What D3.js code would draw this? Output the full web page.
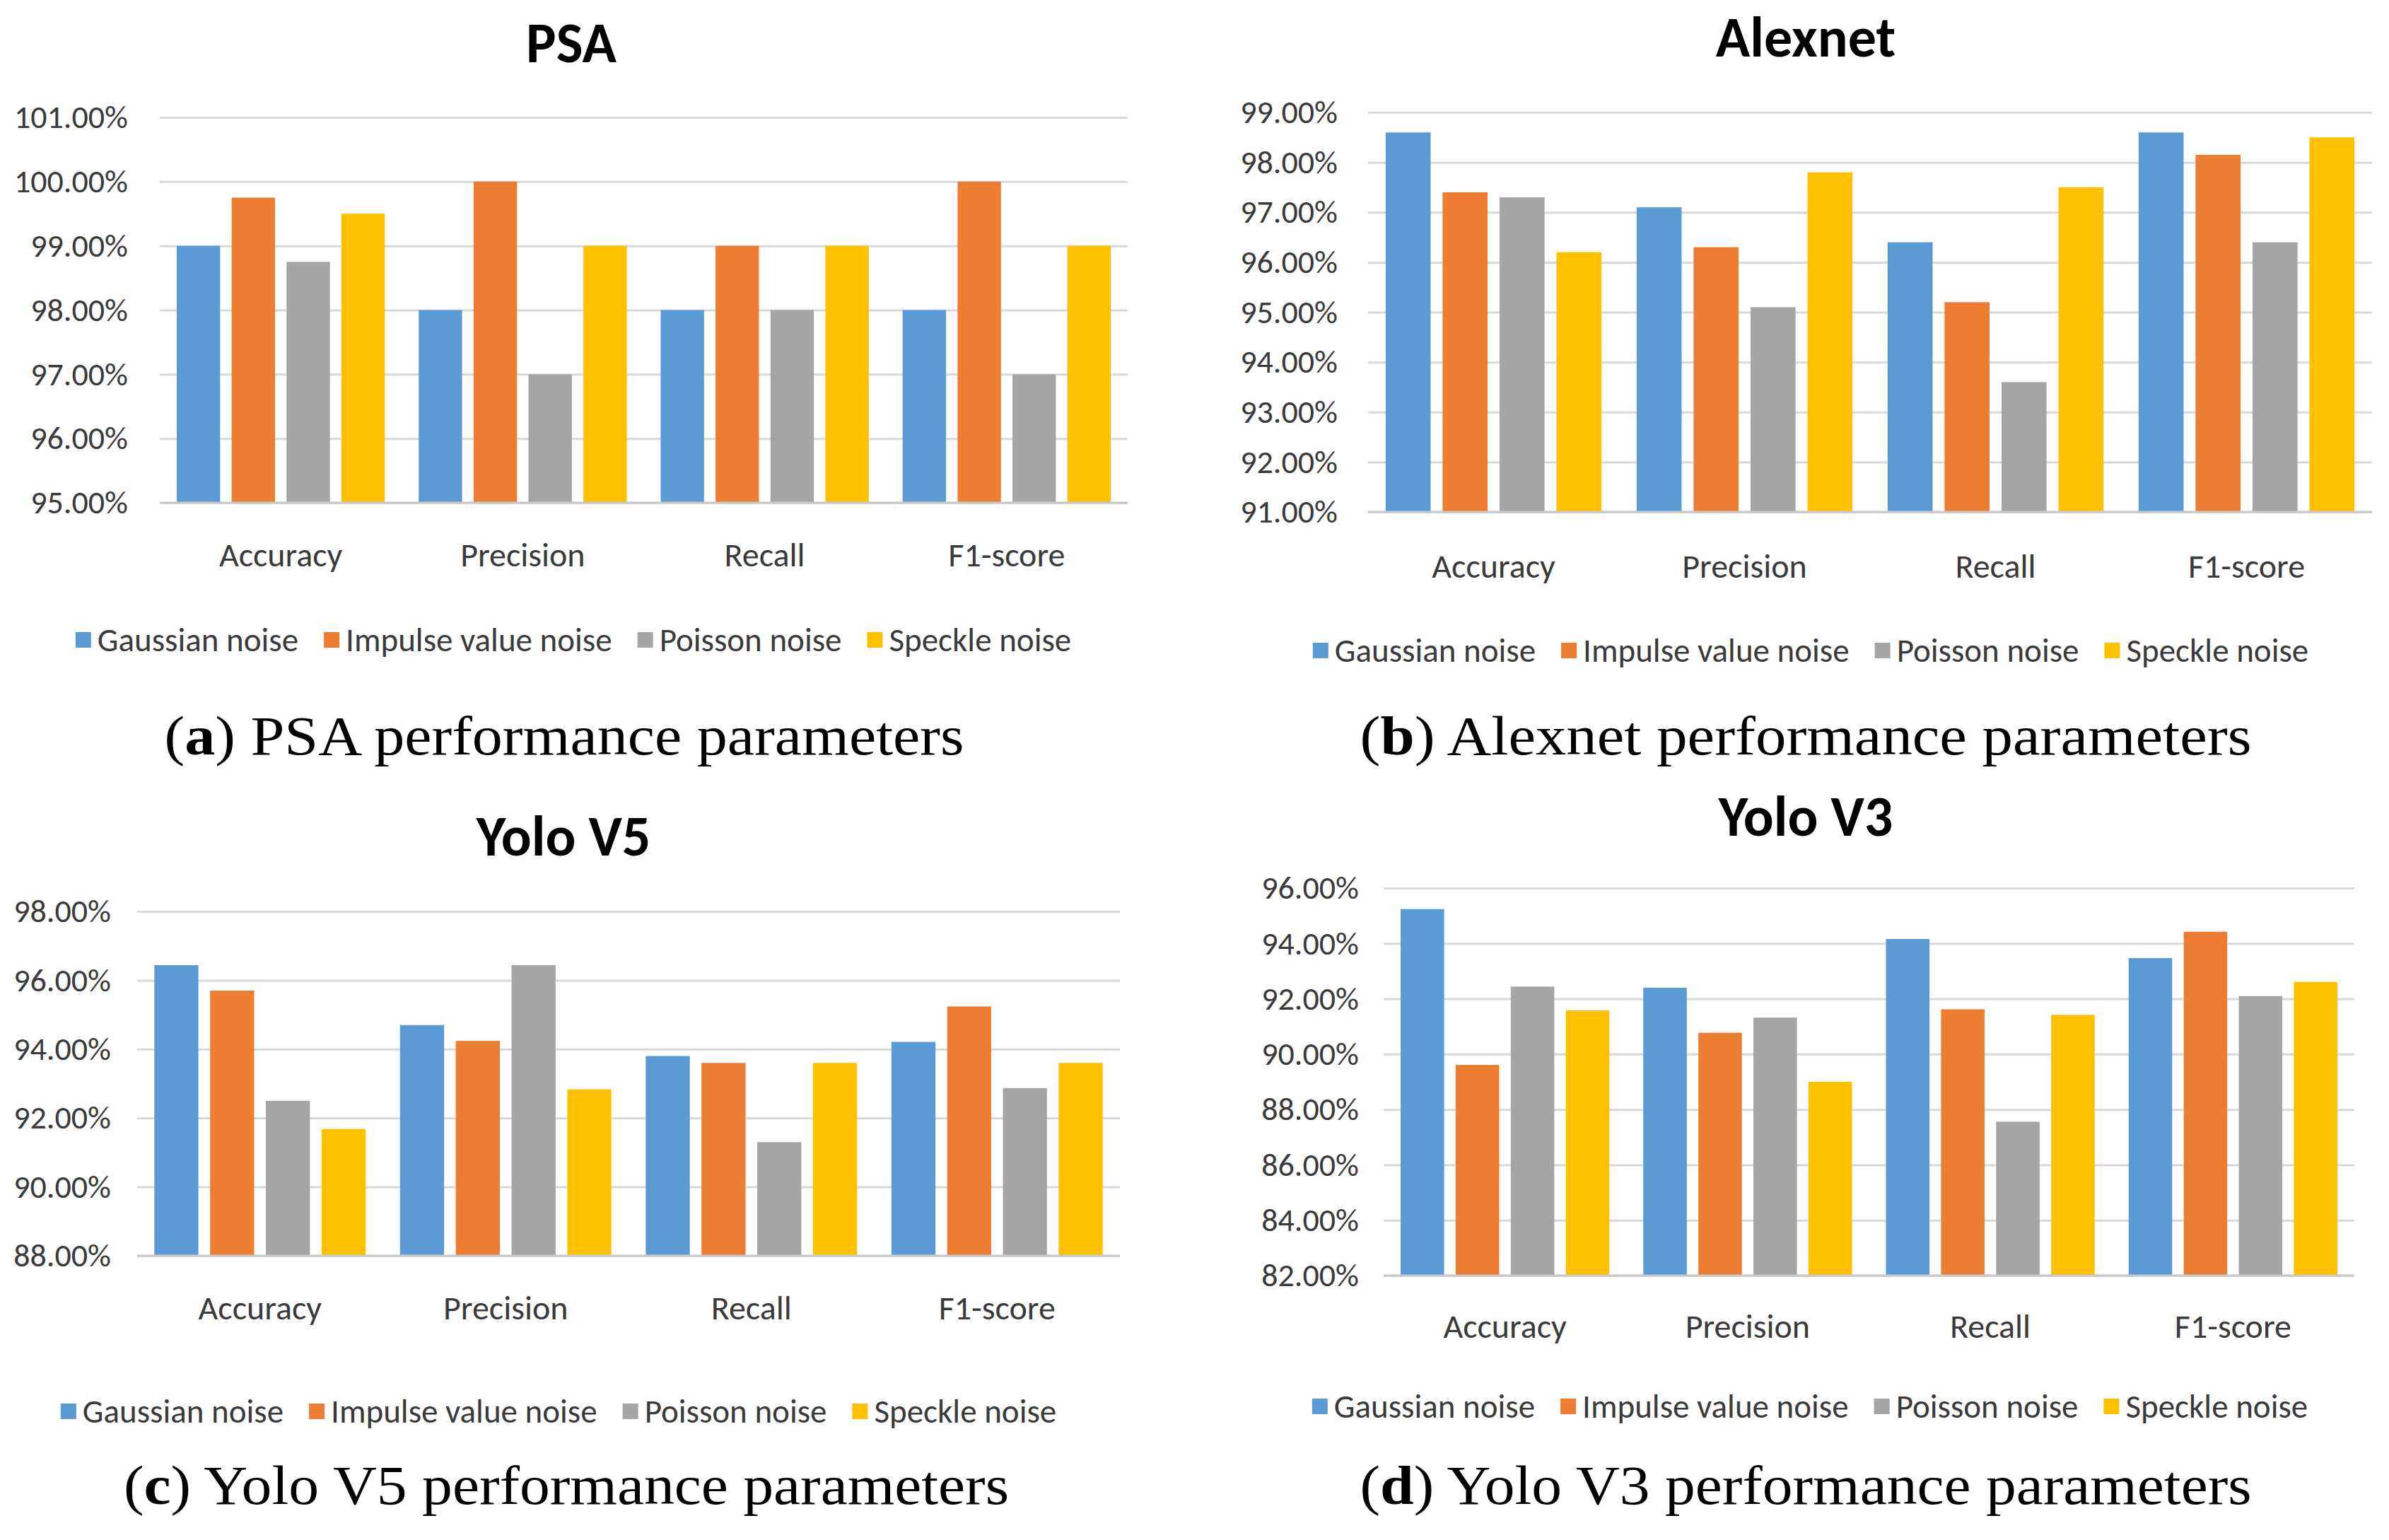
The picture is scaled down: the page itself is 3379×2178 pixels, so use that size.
<!DOCTYPE html>
<html><head><meta charset="utf-8">
<script src="https://cdn.jsdelivr.net/npm/d3@7"></script>
<style>body{margin:0;background:#fff} svg{display:block}</style>
</head><body>
<svg id="c" width="3379" height="2178"></svg>
<script>
// ---- data ----
const categories = ["Accuracy", "Precision", "Recall", "F1-score"];
const seriesNames = ["Gaussian noise", "Impulse value noise", "Poisson noise", "Speckle noise"];

const psaGaussian = [99.00, 98.00, 98.00, 98.00];
const psaImpulse  = [99.75, 100.00, 99.00, 100.00];
const psaPoisson  = [98.75, 97.00, 98.00, 97.00];
const psaSpeckle  = [99.50, 99.00, 99.00, 99.00];
const psaTicks = [95, 96, 97, 98, 99, 100, 101];

const alexGaussian = [98.60, 97.10, 96.40, 98.60];
const alexImpulse  = [97.40, 96.30, 95.20, 98.15];
const alexPoisson  = [97.30, 95.10, 93.60, 96.40];
const alexSpeckle  = [96.20, 97.80, 97.50, 98.50];
const alexTicks = [91, 92, 93, 94, 95, 96, 97, 98, 99];

const v5Gaussian = [96.44, 94.70, 93.80, 94.21];
const v5Impulse  = [95.70, 94.24, 93.60, 95.24];
const v5Poisson  = [92.50, 96.44, 91.30, 92.87];
const v5Speckle  = [91.68, 92.83, 93.60, 93.60];
const v5Ticks = [88, 90, 92, 94, 96, 98];

const v3Gaussian = [95.24, 92.40, 94.16, 93.47];
const v3Impulse  = [89.61, 90.77, 91.62, 94.42];
const v3Poisson  = [92.44, 91.32, 87.56, 92.10];
const v3Speckle  = [91.58, 89.00, 91.42, 92.61];
const v3Ticks = [82, 84, 86, 88, 90, 92, 94, 96];

const titles = ["PSA", "Alexnet", "Yolo V5", "Yolo V3"];
const captionLetters = ["a", "b", "c", "d"];
const captionTexts = [" PSA performance parameters", " Alexnet performance parameters",
                      " Yolo V5 performance parameters", " Yolo V3 performance parameters"];

// ---- styles / layout ----
const colors = ["#5B9BD5", "#ED7D31", "#A5A5A5", "#FFC000"];
const sansFont = "Carlito, Lato, 'Open Sans', sans-serif";
const serifFont = "'Liberation Serif', 'DejaVu Serif', serif";

const layouts = [
  {left:226, right:1595, top:166, bottom:711, tickRight:181, titleX:808, titleY:88, catY:784, legY:905, legCX:811, capX:798, capY:1067, capW:1131},
  {left:1935, right:3355, top:159, bottom:724, tickRight:1892, titleX:2554, titleY:80, catY:800, legY:920, legCX:2561, capX:2554, capY:1067, capW:1261},
  {left:194, right:1584, top:1289, bottom:1776, tickRight:157, titleX:797, titleY:1210, catY:1849, legY:1996, legCX:790, capX:801, capY:2127, capW:1252},
  {left:1957, right:3330, top:1256, bottom:1804, tickRight:1922, titleX:2554, titleY:1182, catY:1875, legY:1989, legCX:2560, capX:2554, capY:2127, capW:1261}
];

const datasets = [
  [psaGaussian, psaImpulse, psaPoisson, psaSpeckle],
  [alexGaussian, alexImpulse, alexPoisson, alexSpeckle],
  [v5Gaussian, v5Impulse, v5Poisson, v5Speckle],
  [v3Gaussian, v3Impulse, v3Poisson, v3Speckle]
];
const tickSets = [psaTicks, alexTicks, v5Ticks, v3Ticks];

const svg = d3.select("#c");

function drawChart(i) {
  const L = layouts[i];
  const series = datasets[i];
  const ticks = tickSets[i];
  const g = svg.append("g");

  const y = d3.scaleLinear().domain([ticks[0], ticks[ticks.length - 1]]).range([L.bottom, L.top]);
  const x0 = d3.scaleBand().domain(categories).range([L.left, L.right]).paddingInner(0.14).paddingOuter(0.07);
  const x1 = d3.scaleBand().domain(d3.range(seriesNames.length)).range([0, x0.bandwidth()]).paddingInner(0.21).paddingOuter(0);

  // gridlines + y labels
  const yAxis = d3.axisLeft(y).tickValues(ticks)
    .tickSizeInner(-(L.right - L.left)).tickSizeOuter(0)
    .tickPadding(L.left - L.tickRight)
    .tickFormat(d => d3.format(".2f")(d) + "%");
  const ya = g.append("g").attr("transform", `translate(${L.left},0)`).call(yAxis);
  ya.select(".domain").remove();
  ya.selectAll(".tick line").attr("stroke", "#D9D9D9").attr("stroke-width", 3);
  ya.selectAll(".tick text").attr("font-family", sansFont).attr("font-size", 46).attr("fill", "#3a3a3a");

  // bars
  categories.forEach((cat, ci) => {
    series.forEach((vals, si) => {
      g.append("rect")
        .attr("x", x0(cat) + x1(si))
        .attr("width", x1.bandwidth())
        .attr("y", y(vals[ci]))
        .attr("height", y(ticks[0]) - y(vals[ci]))
        .attr("fill", colors[si]);
    });
  });

  // bottom axis line
  g.append("line").attr("x1", L.left).attr("x2", L.right).attr("y1", L.bottom).attr("y2", L.bottom)
    .attr("stroke", "#C8C8C8").attr("stroke-width", 3);

  // category labels
  const xAxis = d3.axisBottom(x0).tickSize(0).tickPadding(0);
  const xa = g.append("g").attr("transform", `translate(0,${L.catY})`).call(xAxis);
  xa.select(".domain").remove();
  xa.selectAll(".tick text").attr("y", 0).attr("dy", "0.35em")
    .attr("font-family", sansFont).attr("font-size", 48).attr("fill", "#3a3a3a");

  // title
  g.append("text").attr("x", L.titleX).attr("y", L.titleY).attr("text-anchor", "middle")
    .attr("font-family", sansFont).attr("font-weight", "bold").attr("font-size", 80).attr("fill", "#000")
    .text(titles[i]);

  // legend
  const leg = g.append("g");
  const mk = 22, gapText = 9, gapItem = 36;
  let cx = 0;
  seriesNames.forEach((name, si) => {
    leg.append("rect").attr("x", cx).attr("y", L.legY - mk / 2).attr("width", mk).attr("height", mk).attr("fill", colors[si]);
    const t = leg.append("text").attr("x", cx + mk + gapText).attr("y", L.legY).attr("dy", "0.35em")
      .attr("font-family", sansFont).attr("font-size", 47).attr("fill", "#3a3a3a").text(name);
    cx += mk + gapText + t.node().getComputedTextLength() + gapItem;
  });
  const total = cx - gapItem;
  leg.attr("transform", `translate(${L.legCX - total / 2},0)`);

  // caption
  const cap = g.append("text").attr("x", L.capX).attr("y", L.capY).attr("text-anchor", "middle")
    .attr("font-family", serifFont).attr("font-size", 78).attr("fill", "#000")
    .attr("textLength", L.capW).attr("lengthAdjust", "spacingAndGlyphs");
  cap.append("tspan").text("(");
  cap.append("tspan").attr("font-weight", "bold").text(captionLetters[i]);
  cap.append("tspan").text(")" + captionTexts[i]);
}

for (let i = 0; i < 4; i++) drawChart(i);
</script>
</body></html>
